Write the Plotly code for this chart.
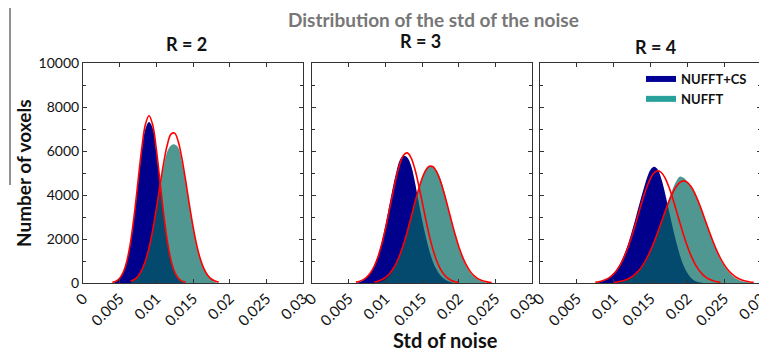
import plotly.graph_objects as go

BIN = 0.0005

# ---- R = 2 ----
r2_cs_start = 0.0040
r2_cs_hist = [0, 60, 200, 480, 1000, 1850, 3050, 4500, 5950, 7000, 7320, 7050, 5980, 4560, 3100, 1880, 1010, 470, 180, 40, 0]
r2_cs_fit = [29, 84, 217, 500, 1028, 1895, 3124, 4610, 6085, 7190, 7600, 7190, 6085, 4610, 3124, 1895, 1028, 500, 217, 84, 29]
r2_nu_start = 0.0065
r2_nu_hist = [0, 120, 290, 550, 960, 1560, 2360, 3320, 4350, 5300, 5980, 6250, 6300, 6150, 5500, 4580, 3540, 2560, 1720, 1080, 630, 340, 160, 40, 0]
r2_nu_fit = [75, 158, 311, 573, 986, 1588, 2392, 3367, 4434, 5460, 6286, 6768, 6813, 6414, 5646, 4648, 3577, 2574, 1733, 1091, 642, 353, 182, 87, 39]

# ---- R = 3 ----
r3_cs_start = 0.0060
r3_cs_hist = [0, 40, 130, 270, 480, 800, 1250, 1850, 2600, 3450, 4300, 5050, 5600, 5780, 5700, 5350, 4650, 3750, 2900, 2120, 1470, 960, 600, 350, 190, 90, 30, 0, 0]
r3_cs_fit = [39, 80, 152, 275, 474, 772, 1195, 1754, 2444, 3229, 4049, 4817, 5436, 5821, 5914, 5700, 5212, 4522, 3723, 2907, 2154, 1515, 1009, 639, 384, 218, 118, 61, 29]
r3_nu_start = 0.0085
r3_nu_hist = [0, 20, 70, 170, 330, 560, 860, 1260, 1750, 2330, 2960, 3620, 4240, 4780, 5150, 5300, 5260, 5100, 4750, 4200, 3550, 2880, 2220, 1640, 1160, 790, 510, 320, 190, 100, 40, 0, 0]
r3_nu_fit = [46, 84, 147, 246, 395, 612, 909, 1297, 1780, 2345, 2969, 3612, 4222, 4741, 5116, 5303, 5282, 5055, 4647, 4105, 3485, 2841, 2226, 1676, 1212, 842, 562, 361, 222, 132, 75, 41, 21]

# ---- R = 4 ----
r4_cs_start = 0.0075
r4_cs_hist = [0, 30, 80, 160, 280, 440, 660, 960, 1350, 1820, 2380, 2980, 3600, 4200, 4750, 5150, 5280, 5150, 4700, 4050, 3300, 2550, 1850, 1250, 780, 450, 230, 100, 40, 10, 0, 0, 0, 0, 0]
r4_cs_fit = [33, 59, 101, 168, 269, 416, 621, 894, 1245, 1674, 2174, 2725, 3301, 3860, 4361, 4757, 5012, 5100, 5012, 4757, 4361, 3860, 3301, 2725, 2174, 1674, 1245, 894, 621, 416, 269, 168, 101, 59, 33]
r4_nu_start = 0.0100
r4_nu_hist = [0, 10, 40, 90, 160, 260, 390, 560, 790, 1080, 1430, 1850, 2320, 2820, 3330, 3820, 4260, 4620, 4840, 4780, 4600, 4380, 4080, 3720, 3280, 2800, 2320, 1860, 1440, 1080, 780, 540, 360, 230, 140, 80, 40, 10, 0]
r4_nu_fit = [28, 47, 77, 123, 191, 288, 423, 603, 835, 1125, 1472, 1873, 2317, 2786, 3256, 3699, 4084, 4384, 4575, 4640, 4575, 4384, 4084, 3699, 3256, 2786, 2317, 1873, 1472, 1125, 835, 603, 423, 288, 191, 123, 77, 47, 28]

panel_titles = ["R = 2", "R = 3", "R = 4"]
x_tickvals = [0, 0.005, 0.01, 0.015, 0.02, 0.025, 0.03]
x_ticktext = ["0", "0.005", "0.01", "0.015", "0.02", "0.025", "0.03"]
y_tickvals = [0, 2000, 4000, 6000, 8000, 10000]
y_ticktext = ["0", "2000", "4000", "6000", "8000", "10000"]
series_names = ["NUFFT+CS", "NUFFT"]

panels = [
    (r2_cs_start, r2_cs_hist, r2_cs_fit, r2_nu_start, r2_nu_hist, r2_nu_fit),
    (r3_cs_start, r3_cs_hist, r3_cs_fit, r3_nu_start, r3_nu_hist, r3_nu_fit),
    (r4_cs_start, r4_cs_hist, r4_cs_fit, r4_nu_start, r4_nu_hist, r4_nu_fit),
]

NAVY = "rgb(0,0,140)"
TEAL = "rgba(5,105,98,0.7)"
RED = "rgb(255,0,0)"
FONT = "Lato"


def xs(start, vals):
    return [round(start + i * BIN, 6) for i in range(len(vals))]


fig = go.Figure()
for p, (cs0, csh, csf, nu0, nuh, nuf) in enumerate(panels):
    ax = "" if p == 0 else str(p + 1)
    xa, ya = "x" + ax, "y" + ax
    fig.add_trace(go.Scatter(x=xs(cs0, csh), y=csh, mode="lines", line=dict(width=0, shape="spline"),
                             fill="tozeroy", fillcolor=NAVY, showlegend=False, xaxis=xa, yaxis=ya,
                             hoverinfo="skip"))
    fig.add_trace(go.Scatter(x=xs(nu0, nuh), y=nuh, mode="lines", line=dict(width=0, shape="spline"),
                             fill="tozeroy", fillcolor=TEAL, showlegend=False, xaxis=xa, yaxis=ya,
                             hoverinfo="skip"))
    fig.add_trace(go.Scatter(x=xs(cs0, csf), y=csf, mode="lines", line=dict(color=RED, width=1.6, shape="spline"),
                             showlegend=False, xaxis=xa, yaxis=ya))
    fig.add_trace(go.Scatter(x=xs(nu0, nuf), y=nuf, mode="lines", line=dict(color=RED, width=1.6, shape="spline"),
                             showlegend=False, xaxis=xa, yaxis=ya))

# legend entries
fig.add_trace(go.Scatter(x=[None], y=[None], mode="lines", name="<b>%s</b>" % series_names[0],
                         line=dict(color="rgb(0,0,150)", width=6), xaxis="x3", yaxis="y3"))
fig.add_trace(go.Scatter(x=[None], y=[None], mode="lines", name="<b>%s</b>" % series_names[1],
                         line=dict(color="rgb(40,160,155)", width=6), xaxis="x3", yaxis="y3"))

# page body has an 8px margin: figure is drawn at (8, 8) in the window
OFF = 8
W, H = 767 - OFF, 354 - OFF


def px(x):
    return (x - OFF) / W


def py(y):
    return 1 - (y - OFF) / H


xdoms = [(px(83), px(303)), (px(312), px(532)), (px(540), px(761))]
ydom = (py(283), py(63))

axis_common = dict(showline=True, linecolor="#333", linewidth=1, mirror="allticks", ticks="inside",
                   ticklen=4, tickcolor="#333", showgrid=False, zeroline=False, automargin=False,
                   ticklabeloverflow="allow",
                   tickfont=dict(family=FONT, size=15, color="#111"))
layout = dict(width=W, height=H, margin=dict(l=0, r=0, t=0, b=0, autoexpand=False), plot_bgcolor="white",
              paper_bgcolor="white", font=dict(family=FONT, color="#111"))
for p in range(3):
    ax = "" if p == 0 else str(p + 1)
    layout["xaxis" + ax] = dict(axis_common, domain=xdoms[p], range=[0, 0.03], tickvals=x_tickvals,
                                ticktext=x_ticktext, tickangle=-45, anchor="y" + ax)
    layout["yaxis" + ax] = dict(axis_common, domain=ydom, range=[0, 10000], tickvals=y_tickvals,
                                ticktext=y_ticktext, showticklabels=(p == 0), anchor="x" + ax,
                                minor=dict(dtick=1000, ticks="inside", ticklen=3, tickcolor="#333"))
layout["yaxis"]["tickfont"] = dict(family=FONT, size=14, color="#111")

layout["legend"] = dict(x=px(752), xanchor="right", y=py(64), yanchor="top",
                        bgcolor="rgba(255,255,255,0)", font=dict(family=FONT, size=13, color="#111"),
                        itemwidth=30, tracegroupgap=2)

ann = [
    dict(text="<b>Distribution of the std of the noise</b>", x=px(433), y=py(20), font=dict(size=19, color="#777")),
    dict(text="<b>%s</b>" % panel_titles[0], x=px(186), y=py(44), font=dict(size=18, color="#111")),
    dict(text="<b>%s</b>" % panel_titles[1], x=px(420), y=py(41), font=dict(size=18, color="#111")),
    dict(text="<b>%s</b>" % panel_titles[2], x=px(655), y=py(47), font=dict(size=18, color="#111")),
    dict(text="<b>Number of voxels</b>", x=px(23), y=py(173), textangle=-90, font=dict(size=19, color="#111")),
    dict(text="<b>Std of noise</b>", x=px(445), y=py(340), font=dict(size=20, color="#111")),
]
layout["annotations"] = [dict(a, xref="paper", yref="paper", showarrow=False, xanchor="center", yanchor="middle",
                              font=dict(a["font"], family=FONT)) for a in ann]
layout["shapes"] = [dict(type="line", xref="paper", yref="paper", x0=px(10), x1=px(10), y0=py(185), y1=1,
                         line=dict(color="#222", width=1))]
fig.update_layout(**layout)
fig.write_html("out.html")
